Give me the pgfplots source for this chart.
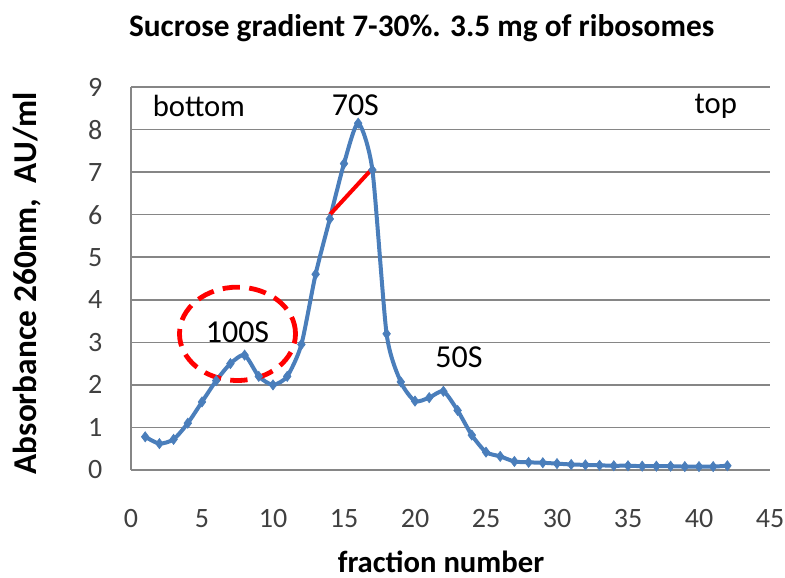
\documentclass[border=0pt]{standalone}
\usepackage{pgfplots}
\pgfplotsset{compat=1.18}
\usepackage{fontspec}
\setmainfont{Carlito}
\definecolor{exblue}{RGB}{74,126,187}
\definecolor{gridgray}{RGB}{134,134,134}
\definecolor{ticktxt}{RGB}{64,64,64}
\pgfplotstableread{
x y
1 0.78
2 0.62
3 0.72
4 1.1
5 1.6
6 2.1
7 2.5
8 2.7
9 2.2
10 2.0
11 2.2
12 2.95
13 4.6
14 5.9
15 7.2
16 8.15
17 7.05
18 3.2
19 2.07
20 1.62
21 1.7
22 1.85
23 1.4
24 0.82
25 0.42
26 0.32
27 0.2
28 0.18
29 0.17
30 0.15
31 0.13
32 0.12
33 0.11
34 0.1
35 0.1
36 0.09
37 0.09
38 0.09
39 0.08
40 0.08
41 0.08
42 0.1
}\datatable
\usepackage{pgfplotstable}
\begin{document}
\begin{tikzpicture}
\useasboundingbox (-98.25pt,-81pt) rectangle (490.5pt,352.5pt);
\begin{axis}[
  at={(0pt,0pt)}, anchor=origin,
  scale only axis, width=479.25pt, height=287.25pt,
  xmin=0, xmax=45, ymin=0, ymax=9,
  xtick={0,5,...,45}, ytick={0,1,...,9},
  axis lines*=left,
  axis line style={gridgray, line width=1.1pt},
  x axis line style={-}, y axis line style={-},
  major tick length=0pt,
  ymajorgrids, grid style={gridgray, line width=1.1pt},
  /pgf/number format/assume math mode=true,
  ticklabel style={font=\fontsize{21}{21}\selectfont, text=ticktxt},
  xticklabel style={yshift=-26pt},
  yticklabel style={xshift=-18pt},
  clip=false,
]
\addplot[exblue, line width=3pt, smooth, tension=0.4, mark=diamond*, mark size=3.8pt, mark options={fill=exblue, draw=exblue, line width=0.5pt}] table[x=x,y=y] {\datatable};
\addplot[red, line width=3pt] coordinates {(14,6.0) (16.9,7.05)};
\draw[red, line width=3.6pt, dash pattern=on 13pt off 7pt] (axis cs:7.5,3.2) ellipse [x radius=43.5pt, y radius=35pt];
\node[font=\fontsize{23}{23}\selectfont, anchor=west] at (axis cs:1.2,8.55) {bottom};
\node[font=\fontsize{23}{23}\selectfont, anchor=east] at (axis cs:43,8.55) {top};
\node[font=\fontsize{24}{24}\selectfont] at (axis cs:15.8,8.57) {70S};
\node[font=\fontsize{24}{24}\selectfont] at (axis cs:7.5,3.24) {100S};
\node[font=\fontsize{24}{24}\selectfont] at (axis cs:23.1,2.65) {50S};
\end{axis}
\node[font=\bfseries\fontsize{23.5}{23.5}\selectfont] at (218pt,331.5pt) {Sucrose gradient 7-30\%. 3.5 mg of ribosomes};
\node[font=\bfseries\fontsize{25}{25}\selectfont, rotate=90] at (-78pt,140pt) {Absorbance 260nm,~~AU/ml};
\node[font=\bfseries\fontsize{23}{23}\selectfont] at (232.5pt,-68.5pt) {fraction number};
\end{tikzpicture}
\end{document}
